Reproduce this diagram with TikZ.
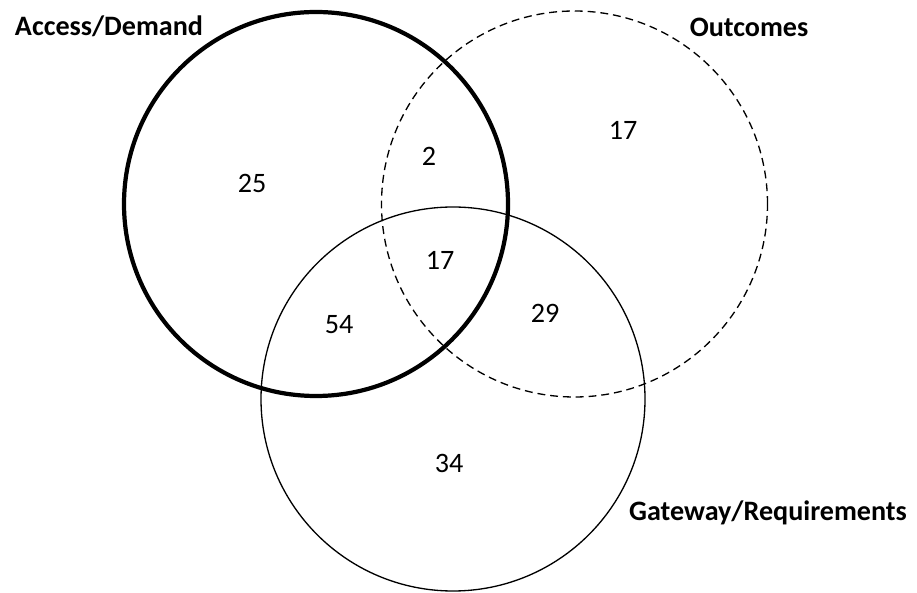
\documentclass[tikz,border=0pt]{standalone}
\usepackage{fontspec}
\setmainfont{Carlito}
\usetikzlibrary{positioning}
\definecolor{c1}{HTML}{000000}

\begin{document}
\begin{tikzpicture}[
    every node/.style={font=\fontsize{16}{19}\selectfont, text=c1},
    ring/.style={circle, draw=c1, inner sep=0pt, line width=0.75pt},
    thickring/.style={ring, line width=2.4pt},
    dashring/.style={ring, dash pattern=on 4.5pt off 2.8pt},
    title/.style={font=\fontsize{16}{19}\selectfont\bfseries},
    count/.style={inner sep=1pt},
]
\useasboundingbox (0, 0) rectangle (18.34, 11.84);

% ================================================ the three sets
\node[thickring, minimum size=7.68cm] (access) at (6.32, 7.76) {};
\node[dashring, minimum size=7.72cm] (outcomes) at (11.49, 7.76) {};
\node[ring, minimum size=7.68cm] (gateway) at (9.06, 3.86) {};

% set names
\node[title] (accessname) at (2.18, 11.32) {Access/Demand};
\node[title] (outcomesname) at (14.98, 11.30) {Outcomes};
\node[title] (gatewayname) at (15.36, 1.58) {Gateway/Requirements};

% ================================================ counts per region
\node[count] (onlyaccess) at (5.04, 8.18) {25};
\node[count] (accessout) at (8.58, 8.72) {2};
\node[count] (onlyout) at (12.46, 9.24) {17};
\node[count] (allthree) at (8.80, 6.64) {17};
\node[count] (accessgate) at (6.78, 5.34) {54};
\node[count] (outgate) at (10.90, 5.58) {29};
\node[count] (onlygate) at (8.98, 2.58) {34};

\end{tikzpicture}
\end{document}
